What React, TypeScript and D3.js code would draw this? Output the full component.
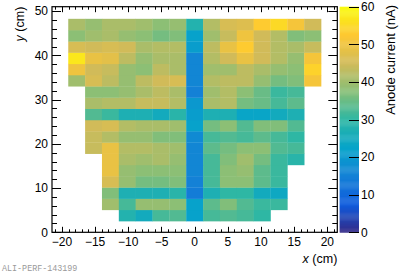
import React from 'react';
import * as d3 from 'd3';

// anode current map, rows from y = 2.54 cm (bottom) to 48.26 cm (top), 15 pads per row
const xEdges = d3.range(16).map(i => -19.05 + 2.54 * i);
const yEdges = d3.range(19).map(i => 2.54 * (i + 1));
const currents: (number | null)[][] = [
  [null, null, null, 28, 25, 32, 33, 22, 32, 33, 32, 30, null, null, null],
  [null, null, 40, 32, 39, 39, 38, 22, 34, 37, 33, 31, 31, null, null],
  [null, null, 37, 27, 27, 27, 29, 14, 27, 30, 30, 25, 24, null, null],
  [null, null, 46, 39, 36, 36, 37, 15, 32, 38, 38, 34, 31, null, null],
  [null, null, 49, 39, 38, 38, 38, 16, 32, 38, 39, 34, 31, null, null],
  [null, null, 49, 41, 40, 41, 39, 16, 32, 37, 40, 36, 31, 29, null],
  [null, 44, 49, 42, 42, 41, 40, 16, 34, 36, 38, 38, 33, 32, null],
  [null, 44, 42, 39, 39, 37, 37, 17, 32, 33, 32, 34, 32, 30, null],
  [null, 45, 46, 42, 41, 41, 40, 22, 36, 38, 33, 37, 37, 33, null],
  [null, 33, 31, 27, 27, 25, 29, 21, 27, 27, 23, 23, 25, 27, null],
  [null, 41, 42, 42, 44, 44, 42, 20, 41, 42, 36, 35, 32, 34, null],
  [null, 38, 38, 39, 41, 43, 41, 15, 40, 42, 38, 35, 31, 32, null],
  [40, 46, 43, 39, 43, 45, 46, 16, 42, 43, 43, 39, 36, 37, 51],
  [50, 45, 44, 39, 38, 43, 41, 16, 40, 40, 43, 41, 39, 38, 54],
  [57, 49, 48, 43, 39, 41, 41, 16, 42, 45, 49, 45, 42, 39, 51],
  [46, 45, 46, 45, 41, 42, 42, 21, 43, 49, 53, 45, 42, 41, 44],
  [38, 40, 41, 39, 38, 36, 37, 22, 40, 44, 50, 45, 42, 37, 38],
  [41, 39, 41, 41, 40, 38, 39, 28, 42, 46, 47, 53, 55, 51, 45],
];
const xTicks = [-20, -15, -10, -5, 0, 5, 10, 15, 20];
const yTicks = [0, 10, 20, 30, 40, 50];
const zTicks = [0, 10, 20, 30, 40, 50, 60];

// ROOT kBird palette
const birdStops = [0, 0.125, 0.25, 0.375, 0.5, 0.625, 0.75, 0.875, 1];
const birdR = [0.2082, 0.0592, 0.078, 0.0232, 0.1802, 0.5301, 0.8186, 0.9956, 0.9764];
const birdG = [0.1664, 0.3599, 0.5041, 0.6419, 0.7178, 0.7492, 0.7328, 0.7862, 0.9832];
const birdB = [0.5293, 0.8684, 0.8385, 0.7914, 0.6425, 0.4662, 0.3499, 0.1968, 0.0539];

const W = 403;
const H = 274;
const left = 52, right = 337.3, top = 6.7, bottom = 232.3;
const font = '"Liberation Sans", Arial, Helvetica, sans-serif';

export default function App() {
  const x = d3.scaleLinear().domain([-21.5, 21.5]).range([left, right]);
  const y = d3.scaleLinear().domain([0, 51]).range([bottom, top]);
  const z = d3.scaleLinear().domain([0, 60]).range([bottom, top]);

  const rgb = birdStops.map((_, i) =>
    d3.rgb(birdR[i] * 255, birdG[i] * 255, birdB[i] * 255).toString());
  const color = d3.scaleLinear<string>()
    .domain(birdStops.map(s => s * 60))
    .range(rgb)
    .interpolate(d3.interpolateRgb)
    .clamp(true);

  const cells: JSX.Element[] = [];
  currents.forEach((row, r) => {
    row.forEach((v, c) => {
      if (v == null) return;
      const x0 = x(xEdges[c]), x1 = x(xEdges[c + 1]);
      const y0 = y(yEdges[r + 1]), y1 = y(yEdges[r]);
      cells.push(
        <rect key={`${r}-${c}`} x={x0} y={y0} width={x1 - x0 + 0.3} height={y1 - y0 + 0.3}
          fill={color(v)} />
      );
    });
  });

  const xMinor = d3.range(-21, 22, 1);
  const yMinor = d3.range(0, 51, 2);

  const bar = d3.range(0, 60, 0.25);
  const barX = 339.7, barW = 19.3;

  return (
    <svg width={W} height={H} style={{ position: 'absolute', left: 0, top: 0, background: '#fff' }}>
      {cells}
      <g stroke="#000" strokeWidth={1}>
        {xMinor.map(t => {
          const len = t % 5 === 0 ? 5.5 : 3;
          const px = Math.round(x(t)) + 0.5;
          return (
            <g key={`xt${t}`}>
              <line x1={px} x2={px} y1={bottom} y2={bottom - len} />
              <line x1={px} x2={px} y1={top} y2={top + len} />
            </g>
          );
        })}
        {yMinor.map(t => {
          const len = t % 10 === 0 ? 9 : 5;
          const py = Math.round(y(t)) + 0.5;
          return (
            <g key={`yt${t}`}>
              <line x1={left} x2={left + len} y1={py} y2={py} />
              <line x1={right} x2={right - len} y1={py} y2={py} />
            </g>
          );
        })}
      </g>
      <rect x={left} y={top} width={right - left} height={bottom - top} fill="none" stroke="#000" strokeWidth={1.2} />
      <g fontFamily={font} fontSize={12} fill="#000">
        {xTicks.map(t => (
          <text key={`xl${t}`} x={x(t)} y={246} textAnchor="middle">{t < 0 ? `\u2212${-t}` : t}</text>
        ))}
        {yTicks.map(t => (
          <text key={`yl${t}`} x={48} y={y(t) + 4.3} textAnchor="end">{t}</text>
        ))}
      </g>
      <text x={right} y={263} textAnchor="end" fontFamily={font} fontSize={12.5}>
        <tspan fontStyle="italic">x</tspan> (cm)
      </text>
      <text transform={`translate(23.5, ${top}) rotate(-90)`} textAnchor="end" fontFamily={font} fontSize={12.5}>
        <tspan fontStyle="italic">y</tspan> (cm)
      </text>
      {/* palette */}
      {bar.map(v => (
        <rect key={`b${v}`} x={barX} y={z(v + 0.25)} width={barW} height={z(v) - z(v + 0.25) + 0.4}
          fill={color(v + 0.125)} />
      ))}
      <g stroke="#000" strokeWidth={1}>
        {zTicks.map(t => {
          const py = Math.round(z(t)) + 0.5;
          return <line key={`zt${t}`} x1={barX + barW} x2={barX + barW - 10} y1={py} y2={py} />;
        })}
      </g>
      <g fontFamily={font} fontSize={12} fill="#000">
        {zTicks.map(t => (
          <text key={`zl${t}`} x={361} y={z(t) + 4.3}>{t}</text>
        ))}
      </g>
      <text transform={`translate(395, 5) rotate(-90)`} textAnchor="end" fontFamily={font} fontSize={13}>
        Anode current (nA)
      </text>
      <text x={2} y={271} fontFamily='"Liberation Mono", "DejaVu Sans Mono", monospace' fontSize={8.4} fill="#999">
        ALI-PERF-143199
      </text>
    </svg>
  );
}
